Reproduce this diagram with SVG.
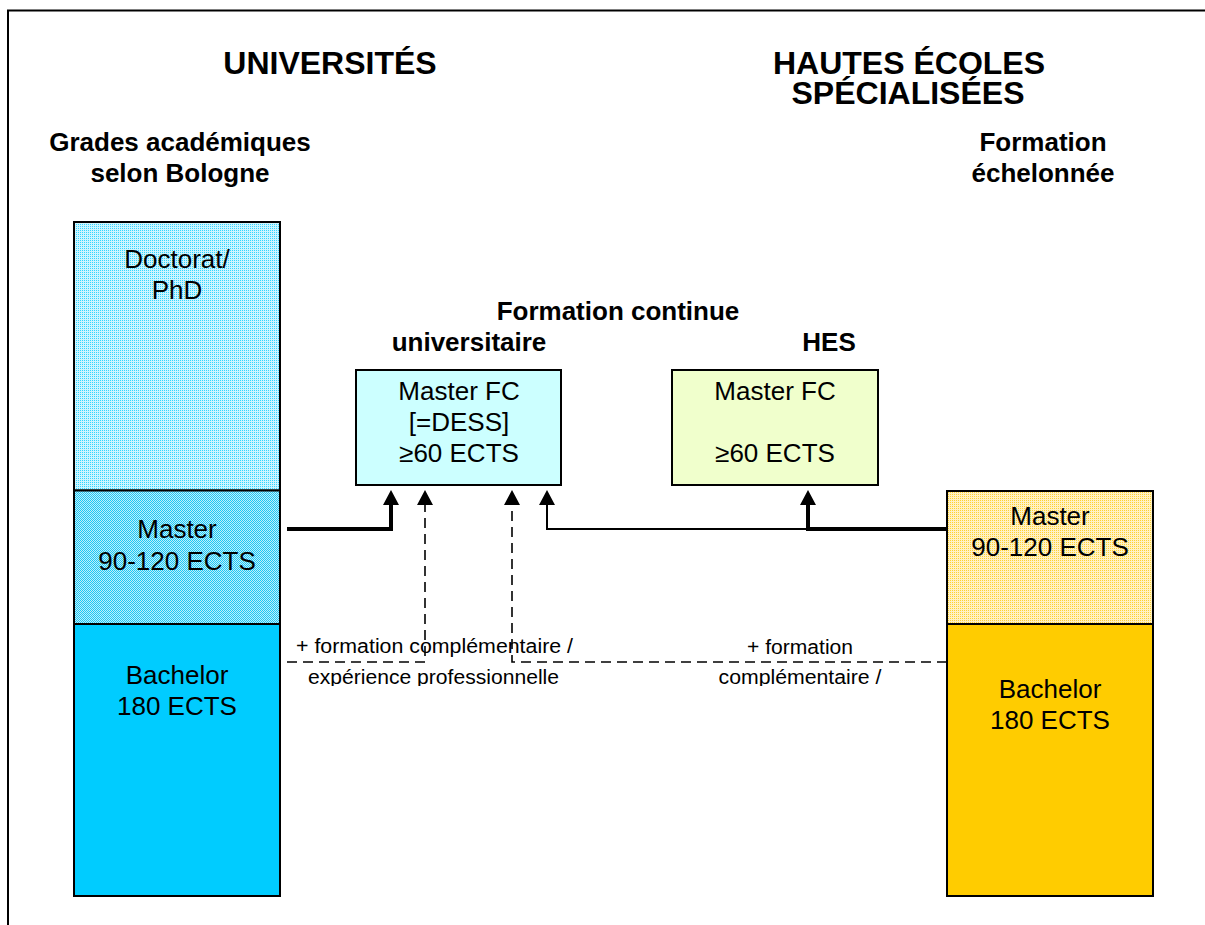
<svg xmlns="http://www.w3.org/2000/svg" width="1205" height="925" viewBox="0 0 1205 925">
<style>
text{font-family:"Liberation Sans",Arial,Helvetica,sans-serif;fill:#000;text-anchor:middle}
.title{font-weight:bold;font-size:32px}
.head{font-weight:bold;font-size:26px}
.box{font-size:26px}
.lbl{font-size:20px}
.col{stroke:#000;stroke-width:2}
.fc{stroke:#000;stroke-width:2}
.conn{fill:none;stroke:#000}
.thick{stroke-width:4}
.thin{stroke-width:2}
.dash{stroke-width:1.6;stroke-dasharray:10 6}
.arr{marker-end:url(#ah)}
</style>
<defs>
<pattern id="pDoc" width="2" height="2" patternUnits="userSpaceOnUse">
<rect width="2" height="2" fill="#CDF4FF"/>
<rect width="1" height="1" fill="#33D6FF"/>
</pattern>
<pattern id="pMasU" width="2" height="2" patternUnits="userSpaceOnUse">
<rect width="2" height="2" fill="#C0EEFA"/>
<rect width="1" height="1" fill="#1CC8F5"/>
<rect x="1" y="1" width="1" height="1" fill="#1CC8F5"/>
</pattern>
<pattern id="pMasH" width="2" height="2" patternUnits="userSpaceOnUse">
<rect width="2" height="2" fill="#FFF1C4"/>
<rect width="1" height="1" fill="#FFD233"/>
</pattern>
<marker id="ah" viewBox="0 0 15 16" refX="5" refY="8" markerWidth="15" markerHeight="16" markerUnits="userSpaceOnUse" orient="auto">
<path d="M0,0 L15,8 L0,16 Z" fill="#000"/>
</marker>
<clipPath id="clipLow"><rect x="0" y="600" width="1205" height="86"/></clipPath>
</defs>

<path d="M8,925 V10.5 H1205" fill="none" stroke="#000" stroke-width="2"/>

<g id="title-universites"><text class="title" x="330" y="74">UNIVERSITÉS</text></g>
<g id="title-hes"><text class="title" x="909" y="74">HAUTES ÉCOLES</text><text class="title" x="908" y="104">SPÉCIALISÉES</text></g>
<g id="head-bologne"><text class="head" x="180" y="151">Grades académiques</text><text class="head" x="180" y="182">selon Bologne</text></g>
<g id="head-echelonnee"><text class="head" x="1043" y="151">Formation</text><text class="head" x="1043" y="182">échelonnée</text></g>
<g id="head-fc"><text class="head" x="618" y="320">Formation continue</text></g>
<g id="head-fc-uni"><text class="head" x="469" y="351">universitaire</text></g>
<g id="head-fc-hes"><text class="head" x="829" y="351">HES</text></g>

<g id="uni-doctorat"><rect class="col" x="74" y="222" width="206" height="268.5" fill="url(#pDoc)"/><text class="box" x="177" y="268">Doctorat/</text><text class="box" x="177" y="299">PhD</text></g>
<g id="uni-master"><rect class="col" x="74" y="490.5" width="206" height="133.5" fill="url(#pMasU)"/><text class="box" x="177" y="538">Master</text><text class="box" x="177" y="570">90-120 ECTS</text></g>
<g id="uni-bachelor"><rect class="col" x="74" y="624" width="206" height="272" fill="#00CCFF"/><text class="box" x="177" y="684">Bachelor</text><text class="box" x="177" y="715">180 ECTS</text></g>

<g id="hes-master"><rect class="col" x="947" y="491" width="206" height="133" fill="url(#pMasH)"/><text class="box" x="1050" y="525">Master</text><text class="box" x="1050" y="556">90-120 ECTS</text></g>
<g id="hes-bachelor"><rect class="col" x="947" y="624" width="206" height="272" fill="#FFCC00"/><text class="box" x="1050" y="698">Bachelor</text><text class="box" x="1050" y="729">180 ECTS</text></g>

<g id="fc-uni"><rect class="fc" x="356" y="370" width="205" height="115" fill="#CCFFFF"/><text class="box" x="459" y="400">Master FC</text><text class="box" x="459" y="431">[=DESS]</text><text class="box" x="459" y="462">≥60 ECTS</text></g>
<g id="fc-hes"><rect class="fc" x="672" y="370" width="206" height="115" fill="#F0FFCC"/><text class="box" x="775" y="400">Master FC</text><text class="box" x="775" y="462">≥60 ECTS</text></g>

<g id="connectors">
<path class="conn thick arr" d="M287,529 H391 V500"/>
<path class="conn thin arr" d="M808,529 H547 V500"/>
<path class="conn thick arr" d="M947,529 H808 V500"/>
<path class="conn dash arr" d="M287,662 H425 V500"/>
<path class="conn dash arr" d="M947,662 H512 V500"/>
</g>

<g id="labels">
<text class="lbl" x="434.5" y="653" textLength="277" lengthAdjust="spacingAndGlyphs">+ formation complémentaire /</text>
<text class="lbl" x="433.5" y="684" textLength="251" lengthAdjust="spacingAndGlyphs" clip-path="url(#clipLow)">expérience professionnelle</text>
<text class="lbl" x="800" y="654" textLength="106" lengthAdjust="spacingAndGlyphs">+ formation</text>
<text class="lbl" x="800" y="684" textLength="163" lengthAdjust="spacingAndGlyphs" clip-path="url(#clipLow)">complémentaire /</text>
</g>
</svg>
